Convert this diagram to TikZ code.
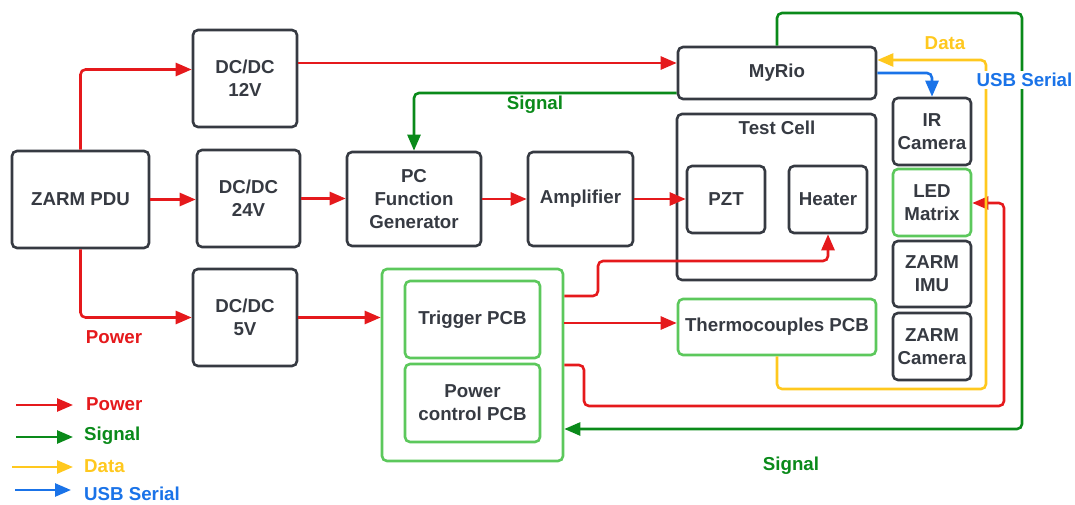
\documentclass[tikz,border=0pt]{standalone}
\usepackage{fontspec}
\setmainfont{Liberation Sans}
\usetikzlibrary{arrows.meta}
\definecolor{pwr}{HTML}{E5191C}
\definecolor{sig}{HTML}{0A8A1A}
\definecolor{dat}{HTML}{FFC81E}
\definecolor{usb}{HTML}{1A73E8}
\definecolor{lgr}{HTML}{5CC85C}
\definecolor{dk}{HTML}{363A42}
\begin{document}
\begin{tikzpicture}[x=1pt,y=-1pt,
  every node/.style={font=\fontsize{18.7}{23}\selectfont\bfseries, text=dk},
  box/.style={draw=dk, line width=2.6pt, rounded corners=5pt, inner sep=0pt, align=center, fill=white},
  gbox/.style={box, draw=lgr},
  conn/.style={line width=2.6pt, rounded corners=5pt, -{Triangle[length=16pt,width=13pt]}},
  pw/.style={conn, draw=pwr},
  sg/.style={conn, draw=sig},
  dt/.style={conn, draw=dat},
  us/.style={conn, draw=usb},
  lab/.style={inner sep=1pt}]
\useasboundingbox (0,0) rectangle (1075,505);

% boxes
\node[box, minimum width=137pt, minimum height=97pt] (pdu) at (80.5,199.5) {ZARM PDU};
\node[box, minimum width=104pt, minimum height=97pt] (dc12) at (245,78.5) {DC/DC\\12V};
\node[box, minimum width=103pt, minimum height=97pt] (dc24) at (248.5,198.5) {DC/DC\\24V};
\node[box, minimum width=104pt, minimum height=97pt] (dc5) at (245,317.5) {DC/DC\\5V};
\node[box, minimum width=134pt, minimum height=94pt] (pcfg) at (414,199) {PC\\Function\\Generator};
\node[box, minimum width=105pt, minimum height=94pt] (amp) at (580.5,199) {Amplifier};
\node[box, minimum width=199pt, minimum height=166pt] (tc) at (776.5,197) {};
\node (tcl) at (777,128) {Test Cell};
\node[box, minimum width=78pt, minimum height=67pt] (pzt) at (726,199.5) {PZT};
\node[box, minimum width=78pt, minimum height=67pt] (heater) at (828,199.5) {Heater};
\node[box, minimum width=198pt, minimum height=52pt] (myrio) at (777,73) {MyRio};
\node[box, minimum width=78pt, minimum height=67pt] (ir) at (932,131.5) {IR\\Camera};
\node[gbox, minimum width=78pt, minimum height=67pt] (led) at (932,202.5) {LED\\Matrix};
\node[box, minimum width=78pt, minimum height=66pt] (imu) at (932,274) {ZARM\\IMU};
\node[box, minimum width=78pt, minimum height=67pt] (zcam) at (932,346.5) {ZARM\\Camera};
\node[gbox, minimum width=198pt, minimum height=56pt] (thermo) at (777,327) {Thermocouples PCB};
\node[gbox, minimum width=181pt, minimum height=192pt] (outer) at (472.5,365) {};
\node[gbox, minimum width=135pt, minimum height=77pt] (trig) at (472.5,319.5) {Trigger PCB};
\node[gbox, minimum width=135pt, minimum height=78pt] (pwrc) at (472.5,403) {Power\\control PCB};

% power connectors
\draw[pw] (pdu.north) |- ([yshift=9pt]dc12.west);
\draw[pw] (pdu.east) -- (pdu.east -| dc24.west);
\draw[pw] (pdu.south) |- (dc5.west);
\coordinate (m1) at ([yshift=10pt]myrio.west);
\draw[pw] (m1 -| dc12.east) -- (m1);
\draw[pw] (dc24.east) -- (dc24.east -| pcfg.west);
\draw[pw] (pcfg.east) -- (pcfg.east -| amp.west);
\draw[pw] (amp.east) -- (amp.east -| pzt.west);
\draw[pw] (dc5.east) -- (dc5.east -| outer.west);
\draw[pw] (outer.east |- 0,296) -- (598,296) -- (598,261) -- (heater.south |- 0,261) -- (heater.south);
\draw[pw] (outer.east |- 0,323) -- (thermo.west |- 0,323);
\draw[pw] (outer.east |- 0,365) -- (584,365) -- (584,406) -- (1004,406) -- (1004,203) -- (led.east |- 0,203);

% signal connectors
\coordinate (m2) at ([yshift=-20pt]myrio.west);
\draw[sg] (m2) -| (pcfg.north);
\draw[sg] (myrio.north) -- (777,13) -- (1022,13) -- (1022,429) -- (outer.east |- 0,429);

% data
\draw[dt] (thermo.south) -- (777,389) -- (986,389) -- (986,60) -- (myrio.east |- 0,60);

% usb
\draw[us] (myrio.east) -| (ir.north);

% labels
\node[lab, text=sig] (sig1) at (535,105) {Signal};
\node[lab, text=sig] (sig2) at (791,466) {Signal};
\node[lab, text=pwr] (pw1) at (114,337) {Power};
\node[lab, text=dat] (dt1) at (945,43) {Data};
\node[lab, text=usb, fill=white, inner sep=2pt] (us1) at (1024.5,80) {USB Serial};

% legend
\coordinate (la1) at (16,405); \coordinate (lb1) at (73,405);
\coordinate (la2) at (16,437); \coordinate (lb2) at (73,437);
\coordinate (la3) at (12,467); \coordinate (lb3) at (73,467);
\coordinate (la4) at (15,490); \coordinate (lb4) at (71,490);
\draw[pw] (la1) -- (lb1);
\draw[sg] (la2) -- (lb2);
\draw[dt] (la3) -- (lb3);
\draw[us] (la4) -- (lb4);
\node[lab, text=pwr, anchor=west] (lg1) at (85,404) {Power};
\node[lab, text=sig, anchor=west] (lg2) at (83,436) {Signal};
\node[lab, text=dat, anchor=west] (lg3) at (83,466) {Data};
\node[lab, text=usb, anchor=west] (lg4) at (83,494) {USB Serial};
\end{tikzpicture}
\end{document}
